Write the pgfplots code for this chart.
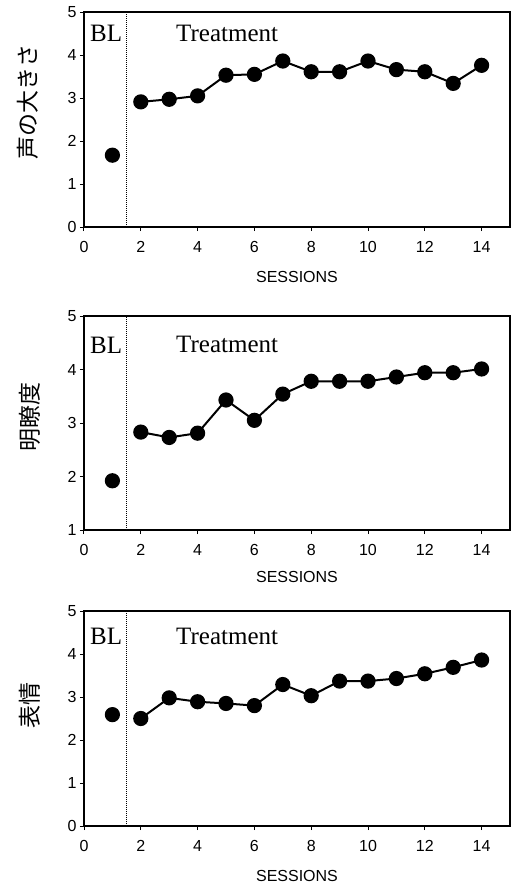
\documentclass[border=0pt]{standalone}
\usepackage{pgfplots}
\pgfplotsset{compat=1.18}
\usepackage{fontspec}
\setmainfont{Liberation Sans}
\newfontfamily\timesfont{Liberation Serif}
\newfontfamily\cjk{Noto Sans CJK JP}
\tikzset{lab/.style={font=\timesfont\fontsize{25}{25}\selectfont}}
\pgfplotsset{
  sessax/.style={
    scale only axis, width=426pt,
    xmin=0, xmax=15,
    xtick={0,2,4,6,8,10,12,14},
    tick align=outside, xtick pos=bottom, ytick pos=left,
    major tick length=4pt,
    axis line style={line width=1.4pt},
    every tick/.style={line width=1pt, black},
    /pgf/number format/assume math mode=true,
    ticklabel style={font=\fontsize{16}{16}\selectfont},
    xticklabel style={text height=11.5pt, text depth=0pt, yshift=-6pt},
    yticklabel style={text height=11.5pt, text depth=0pt},
    xlabel={SESSIONS},
    xlabel style={font=\fontsize{16}{16}\selectfont, at={(axis description cs:0.5,-0.232)}, anchor=center},
    ylabel style={font=\cjk\fontsize{23}{23}\selectfont, anchor=center},
    clip=false,
  },
  datline/.style={black, line width=2pt, mark=*, mark size=6.6pt, mark options={fill=black}},
}
\begin{document}
\begin{tikzpicture}
\useasboundingbox (0,0) rectangle (513pt,-884pt);
% Panel 1
\begin{axis}[sessax, at={(84pt,-12pt)}, anchor=north west, height=215pt,
  ymin=0, ymax=5, ytick={0,1,2,3,4,5},
  ylabel={声の大きさ}, ylabel style={at={(axis description cs:-0.131,0.58)}}]
\addplot[black, densely dotted, line width=1pt] coordinates {(1.5,0) (1.5,5)};
\addplot[datline] coordinates {(1,1.67)};
\addplot[datline] coordinates {
(2,2.91) (3,2.97) (4,3.05) (5,3.53) (6,3.55) (7,3.86) (8,3.61)
(9,3.61) (10,3.86) (11,3.66) (12,3.61) (13,3.34) (14,3.76)};
\node[lab] at (axis cs:0.78,4.51) {BL};
\node[lab] at (axis cs:5.04,4.51) {Treatment};
\end{axis}
% Panel 2
\begin{axis}[sessax, at={(84pt,-316pt)}, anchor=north west, height=214pt,
  ymin=1, ymax=5, ytick={1,2,3,4,5},
  ylabel={明瞭度}, ylabel style={at={(axis description cs:-0.128,0.53)}},
  xlabel style={at={(axis description cs:0.5,-0.22)}}]
\addplot[black, densely dotted, line width=1pt] coordinates {(1.5,1) (1.5,5)};
\addplot[datline] coordinates {(1,1.92)};
\addplot[datline] coordinates {
(2,2.83) (3,2.73) (4,2.81) (5,3.43) (6,3.05) (7,3.54) (8,3.78)
(9,3.78) (10,3.78) (11,3.86) (12,3.94) (13,3.94) (14,4.01)};
\node[lab] at (axis cs:0.78,4.46) {BL};
\node[lab] at (axis cs:5.04,4.46) {Treatment};
\end{axis}
% Panel 3
\begin{axis}[sessax, at={(84pt,-611pt)}, anchor=north west, height=215pt,
  ymin=0, ymax=5, ytick={0,1,2,3,4,5},
  ylabel={表情}, ylabel style={at={(axis description cs:-0.128,0.56)}}]
\addplot[black, densely dotted, line width=1pt] coordinates {(1.5,0) (1.5,5)};
\addplot[datline] coordinates {(1,2.59)};
\addplot[datline] coordinates {
(2,2.50) (3,2.98) (4,2.89) (5,2.85) (6,2.80) (7,3.29) (8,3.03)
(9,3.37) (10,3.37) (11,3.43) (12,3.54) (13,3.69) (14,3.86)};
\node[lab] at (axis cs:0.78,4.40) {BL};
\node[lab] at (axis cs:5.04,4.40) {Treatment};
\end{axis}
\end{tikzpicture}
\end{document}
